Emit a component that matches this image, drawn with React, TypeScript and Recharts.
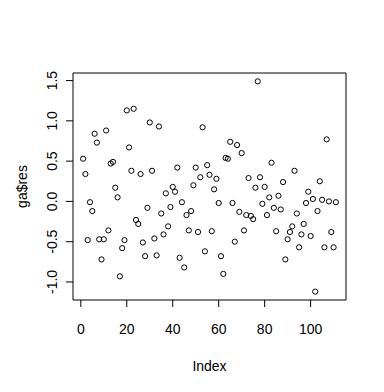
import React from 'react';
import {
  ScatterChart,
  Scatter,
  XAxis,
  YAxis,
  ReferenceArea,
  Label,
} from 'recharts';

// residuals, in index order (1..111)
const residuals = [
  0.53, 0.34, -0.48, -0.01, -0.12, 0.84, 0.73, -0.47, -0.72, -0.47,
  0.88, -0.36, 0.47, 0.49, 0.17, 0.05, -0.93, -0.58, -0.48, 1.13,
  0.67, 0.38, 1.15, -0.23, -0.28, 0.34, -0.51, -0.68, -0.08, 0.98,
  0.38, -0.46, -0.67, 0.93, -0.15, -0.41, 0.1, -0.31, -0.07, 0.18,
  0.12, 0.42, -0.7, -0.01, -0.82, -0.17, -0.36, -0.12, 0.2, 0.42,
  -0.38, 0.3, 0.92, -0.62, 0.45, 0.33, -0.37, 0.15, 0.28, -0.02,
  -0.68, -0.9, 0.54, 0.53, 0.74, -0.02, -0.5, 0.7, -0.13, 0.6,
  -0.36, -0.17, 0.29, -0.18, -0.22, 0.17, 1.49, 0.3, -0.03, 0.18,
  -0.17, 0.05, 0.48, -0.08, -0.37, 0.07, -0.1, 0.24, -0.72, -0.47,
  -0.38, -0.31, 0.38, -0.15, -0.57, -0.41, -0.28, -0.02, 0.12, -0.43,
  0.03, -1.12, -0.12, 0.25, 0.02, -0.57, 0.77, 0.0, -0.38, -0.57,
  -0.01,
];

const xTicks = [0, 20, 40, 60, 80, 100];
const yTicks = [-1, -0.5, 0, 0.5, 1, 1.5];

// R-style 4% padding around the data range
const xDomain = [-3.4, 115.4];
const yDomain = [-1.224, 1.594];

const FONT = '"Liberation Sans", Arial, sans-serif';

const data = residuals.map((v, i) => ({ x: i + 1, y: v }));

const XTick = (props: any) => {
  const { x, y, payload } = props;
  return (
    <text x={x} y={y + 27} textAnchor="middle" fontFamily={FONT} fontSize={14} fill="#000">
      {payload.value}
    </text>
  );
};

const YTick = (props: any) => {
  const { x, y, payload } = props;
  const tx = x - 9;
  return (
    <text
      x={tx}
      y={y}
      transform={`rotate(-90, ${tx}, ${y})`}
      textAnchor="middle"
      fontFamily={FONT}
      fontSize={14}
      fill="#000"
    >
      {Number(payload.value).toFixed(1)}
    </text>
  );
};

const Dot = (props: any) => {
  const { cx, cy } = props;
  return <circle cx={cx} cy={cy} r={2.6} fill="none" stroke="#000" strokeWidth={1} />;
};

export default function App() {
  return (
    <div style={{ position: 'absolute', left: 0, top: 0, width: 384, height: 392, background: '#fff' }}>
      <ScatterChart
        width={384}
        height={392}
        margin={{ top: 73, right: 38, bottom: 52, left: 28 }}
      >
        <XAxis
          type="number"
          dataKey="x"
          domain={xDomain}
          ticks={xTicks}
          height={40}
          tickSize={7}
          tickMargin={0}
          axisLine={false}
          tickLine={{ stroke: '#000' }}
          tick={<XTick />}
          allowDataOverflow
        >
          <Label
            content={({ viewBox }: any) => (
              <text
                x={viewBox.x + viewBox.width / 2}
                y={viewBox.y + 71}
                textAnchor="middle"
                fontFamily={FONT}
                fontSize={14}
                fill="#000"
              >
                Index
              </text>
            )}
          />
        </XAxis>
        <YAxis
          type="number"
          dataKey="y"
          domain={yDomain}
          ticks={yTicks}
          width={45}
          tickSize={7}
          tickMargin={0}
          axisLine={false}
          tickLine={{ stroke: '#000' }}
          tick={<YTick />}
          allowDataOverflow
        >
          <Label
            content={({ viewBox }: any) => {
              const lx = viewBox.x - 1;
              const ly = viewBox.y + viewBox.height / 2;
              return (
                <text
                  x={lx}
                  y={ly}
                  transform={`rotate(-90, ${lx}, ${ly})`}
                  textAnchor="middle"
                  fontFamily={FONT}
                  fontSize={14}
                  fill="#000"
                >
                  ga$res
                </text>
              );
            }}
          />
        </YAxis>
        <ReferenceArea
          x1={xDomain[0]}
          x2={xDomain[1]}
          y1={yDomain[0]}
          y2={yDomain[1]}
          fill="none"
          fillOpacity={0}
          stroke="#000"
          strokeWidth={1}
          ifOverflow="visible"
        />
        <Scatter data={data} shape={<Dot />} isAnimationActive={false} />
      </ScatterChart>
    </div>
  );
}
